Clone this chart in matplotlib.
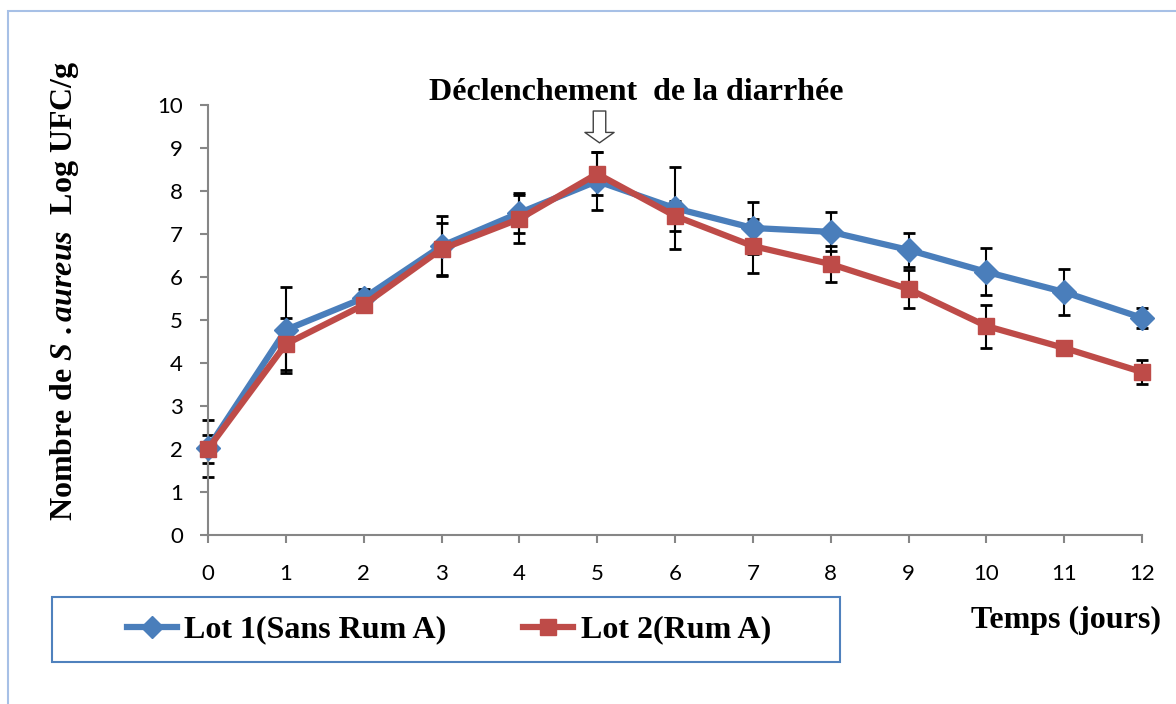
import numpy as np
import matplotlib
matplotlib.use("Agg")
import matplotlib.pyplot as plt
from matplotlib.patches import Rectangle
from matplotlib.lines import Line2D

plt.rcParams['mathtext.fontset'] = 'custom'
plt.rcParams['mathtext.rm'] = 'Liberation Serif:bold'
plt.rcParams['mathtext.bf'] = 'Liberation Serif:bold'
plt.rcParams['mathtext.it'] = 'Liberation Serif:bold:italic'

# data
days = [0, 1, 2, 3, 4, 5, 6, 7, 8, 9, 10, 11, 12]
lot1 = [2.02, 4.77, 5.51, 6.72, 7.49, 8.23, 7.6, 7.14, 7.05, 6.63, 6.12, 5.65, 5.05]
lot1_err = [0.66, 1.0, 0.2, 0.7, 0.46, 0.67, 0.95, 0.6, 0.45, 0.4, 0.55, 0.53, 0.23]
lot2 = [2.0, 4.44, 5.35, 6.65, 7.35, 8.4, 7.42, 6.72, 6.3, 5.72, 4.86, 4.35, 3.79]
lot2_err = [0.33, 0.6, 0.1, 0.6, 0.55, 0.5, 0.35, 0.62, 0.42, 0.45, 0.5, 0.0, 0.29]
xticks = list(range(0, 13))
yticks = list(range(0, 11))

blue = '#4a7ebb'
red = '#be4b48'
grey = '#868686'
serif = 'Liberation Serif'

fig = plt.figure(figsize=(11.76, 7.04), dpi=100)
ax = fig.add_axes([208/1176, 1-535/704, (1142-208)/1176, 430/704])

for vals, errs in [(lot1, lot1_err), (lot2, lot2_err)]:
    eb = ax.errorbar(days, vals, yerr=errs, fmt='none', ecolor='black', elinewidth=1.5,
                     capsize=4, capthick=2, zorder=2)
    for art in eb.lines[1] + eb.lines[2]:
        art.set_clip_on(False)
ax.plot(days, lot1, color=blue, lw=4.5, marker='D', ms=12, mec=blue, zorder=3, clip_on=False)
ax.plot(days, lot2, color=red, lw=4.5, marker='s', ms=12, mec=red, zorder=4, clip_on=False)

ax.set_xlim(0, 12)
ax.set_ylim(0, 10)
ax.set_xticks(xticks)
ax.set_yticks(yticks)
for s in ['top', 'right']:
    ax.spines[s].set_visible(False)
for s in ['left', 'bottom']:
    ax.spines[s].set_color(grey)
    ax.spines[s].set_linewidth(1.5)
ax.tick_params(direction='out', length=6, width=1.5, color=grey, labelsize=16)
ax.tick_params(axis='x', pad=15)
ax.tick_params(axis='y', pad=12)
for lab in ax.get_xticklabels() + ax.get_yticklabels():
    lab.set_fontfamily('Lato')

# y label with italic species name
fig.text(65/1176, 1-291/704, r'$\mathbf{Nombre\ de\ }\mathit{S\ .aureus}\mathbf{\ \ Log\ UFC/g}$',
         rotation=90, ha='center', va='center', fontsize=23)

fig.text(1066/1176, 1-620/704, 'Temps (jours)', fontfamily=serif, fontweight='bold',
         fontsize=23, ha='center', va='center')

fig.text(636/1176, 1-93/704, 'Déclenchement  de la diarrhée', fontfamily=serif,
         fontweight='bold', fontsize=23, ha='center', va='center')

# hollow arrow pointing at day 5
ax.annotate('', xy=(5.03, 9.12), xytext=(5.03, 9.86), annotation_clip=False,
            arrowprops=dict(arrowstyle='simple,head_length=0.75,head_width=2.1,tail_width=0.9',
                            fc='white', ec='#404040', lw=1, shrinkA=0, shrinkB=0))

# legend box
fig.patches.append(Rectangle((52/1176, 1-662/704), 788/1176, 65/704, transform=fig.transFigure,
                             fill=False, ec='#4f81bd', lw=1.5))
handles = [Line2D([], [], color=blue, lw=4.5, marker='D', ms=11),
           Line2D([], [], color=red, lw=4.5, marker='s', ms=11)]
fig.legend(handles, ['Lot 1(Sans Rum A)', 'Lot 2(Rum A)'], loc='center',
           bbox_to_anchor=(449/1176, 1-630/704), ncol=2, frameon=False,
           prop={'family': serif, 'weight': 'bold', 'size': 23},
           handlelength=1.57, handletextpad=0.22, columnspacing=2.4)

# outer chart frame
fig.patches.append(Rectangle((8/1176, -0.05), 1.1, 1.05 - 11/704, transform=fig.transFigure,
                             fill=False, ec='#a7c0e6', lw=1.5))

plt.savefig('out.png', dpi=100)
